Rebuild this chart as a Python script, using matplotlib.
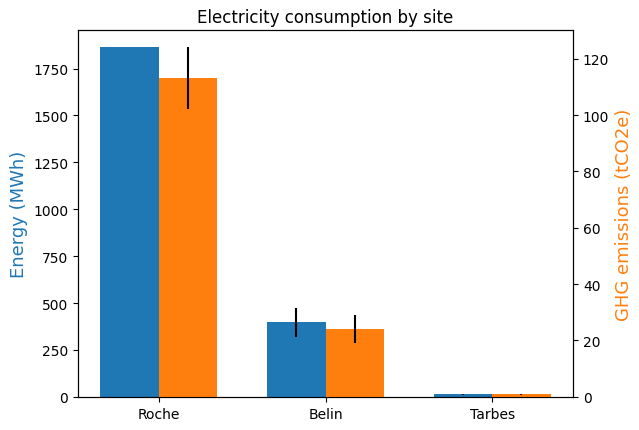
import numpy as np
import matplotlib
matplotlib.use("Agg")
import matplotlib.pyplot as plt

sites = ["Roche", "Belin", "Tarbes"]
energy = [1862, 397, 14]
energy_err = [0, 78, 3]
ghg = [113, 24.0, 0.9]
ghg_err = [11, 5, 0.2]

blue = "#1f77b4"
orange = "#ff7f0e"

fig, ax1 = plt.subplots(figsize=(6.39, 4.31), dpi=100)
fig.subplots_adjust(left=0.122, right=0.897, top=0.928, bottom=0.077)
ax2 = ax1.twinx()

x = np.arange(len(sites))
w = 0.35
ax1.bar(x - w / 2, energy, w, yerr=energy_err, color=blue)
ax2.bar(x + w / 2, ghg, w, yerr=ghg_err, color=orange)

ax1.set_xticks(x)
ax1.set_xticklabels(sites)
ax1.set_ylabel("Energy (MWh)", color=blue, fontsize=13)
ax2.set_ylabel("GHG emissions (tCO2e)", color=orange, fontsize=13)
ax1.set_title("Electricity consumption by site")

fig.savefig("out.png", dpi=100)
